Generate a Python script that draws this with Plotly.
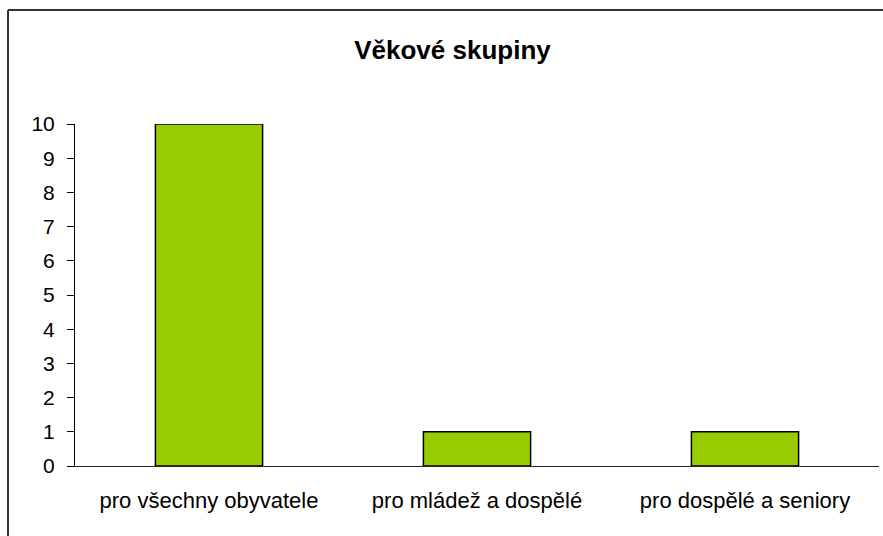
import plotly.graph_objects as go

categories = ["pro všechny obyvatele", "pro mládež a dospělé", "pro dospělé a seniory"]
values = [10, 1, 1]
y_ticks = list(range(0, 11))
title_text = "Věkové skupiny"

W, H = 883, 536
L, R, T, B = 75, 4, 124, 70
pw, ph = W - L - R, H - T - B

def px_x(p):
    return (p - L) / pw

def px_y(p):
    return (H - B - p) / ph

fig = go.Figure(go.Bar(
    x=categories, y=values, width=0.4,
    marker=dict(color="#99CC00", line=dict(color="#000000", width=1.5)),
))

font_family = "Liberation Sans, Arial, sans-serif"

fig.update_layout(
    width=W, height=H,
    margin=dict(l=L, r=R, t=T, b=B, autoexpand=False),
    paper_bgcolor="white", plot_bgcolor="white",
    showlegend=False,
    bargap=0.6,
    title=dict(text="<b>" + title_text + "</b>", x=px_x(452.5), xref="paper", xanchor="center",
               y=1 - 50 / H, yref="container", yanchor="middle",
               font=dict(family=font_family, size=26, color="#000000")),
    xaxis=dict(showline=True, linecolor="#222222", linewidth=1, ticks="", showgrid=False,
               tickfont=dict(family=font_family, size=22, color="#000000"),
               ticklabelstandoff=15, fixedrange=True),
    yaxis=dict(range=[0, 10], tickvals=y_ticks, showline=True, linecolor="#000000", linewidth=1,
               ticks="outside", ticklen=7, tickcolor="#000000", showgrid=False, zeroline=False,
               tickfont=dict(family=font_family, size=21, color="#000000"),
               ticklabelstandoff=8, fixedrange=True),
    shapes=[
        dict(type="line", xref="paper", yref="paper", x0=px_x(8), x1=px_x(8), y0=px_y(10), y1=px_y(560),
             line=dict(color="#333333", width=2)),
        dict(type="line", xref="paper", yref="paper", x0=px_x(8), x1=px_x(900), y0=px_y(10), y1=px_y(10),
             line=dict(color="#333333", width=2)),
    ],
)

fig.write_html("out.html", config={"displayModeBar": False},
               post_script="document.body.style.margin='0';document.body.style.overflow='hidden';")
